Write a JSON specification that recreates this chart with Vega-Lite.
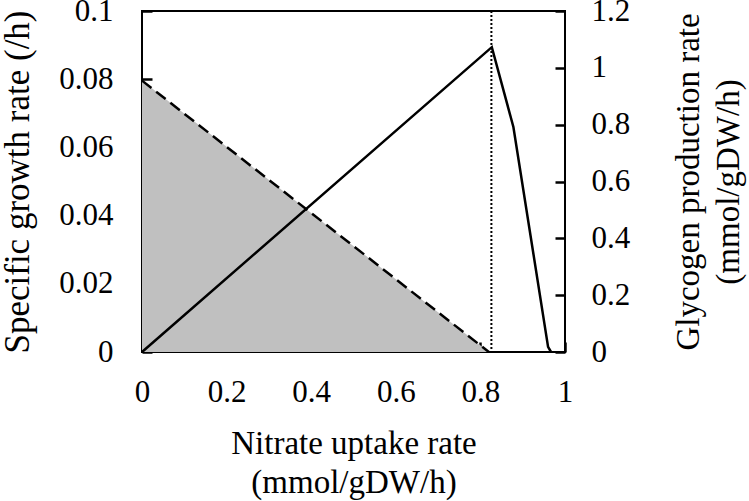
{
  "$schema": "https://vega.github.io/schema/vega-lite/v6.json",
  "width": 423,
  "height": 341,
  "autosize": {"type": "none"},
  "padding": {"left": 142, "top": 11, "right": 184, "bottom": 149},
  "background": "white",
  "config": {
    "font": "Liberation Serif",
    "view": {"stroke": "black", "strokeWidth": 2, "fill": null},
    "axis": {
      "labelFont": "Liberation Serif",
      "titleFont": "Liberation Serif",
      "labelFontSize": 31,
      "titleFontSize": 33,
      "labelColor": "black",
      "titleColor": "black",
      "titleFontWeight": "normal",
      "domain": false,
      "ticks": true,
      "tickColor": "black",
      "tickWidth": 2.5,
      "tickSize": 10,
      "offset": -10,
      "grid": false,
      "labelFlush": false,
      "zindex": 1
    }
  },
  "datasets": {
    "growth": [
      {"x": 0, "g": 0},
      {"x": 0.827, "g": 0.0894},
      {"x": 0.878, "g": 0.066},
      {"x": 0.96, "g": 0.0015},
      {"x": 0.967, "g": 0}
    ],
    "glycogen": [
      {"x": 0, "v": 0.955},
      {"x": 0.82, "v": 0}
    ],
    "marker": [{"x": 0.826}]
  },
  "layer": [
    {
      "data": {"name": "glycogen"},
      "encoding": {
        "x": {
          "field": "x", "type": "quantitative",
          "scale": {"domain": [0, 1]},
          "axis": {
            "values": [0, 0.2, 0.4, 0.6, 0.8, 1],
            "format": "~g",
            "labelPadding": 25,
            "title": ["Nitrate uptake rate", "(mmol/gDW/h)"],
            "titlePadding": 20,
            "titleLineHeight": 39
          }
        },
        "y": {
          "field": "v", "type": "quantitative",
          "scale": {"domain": [0, 1.2]},
          "axis": {
            "orient": "right",
            "values": [0, 0.2, 0.4, 0.6, 0.8, 1, 1.2],
            "format": "~g",
            "labelPadding": 26,
            "title": ["Glycogen production rate", "(mmol/gDW/h)"],
            "titleAngle": -90,
            "titlePadding": 36,
            "titleLineHeight": 40
          }
        }
      },
      "layer": [
        {"mark": {"type": "area", "color": "#c0c0c0"}},
        {"mark": {"type": "line", "color": "black", "strokeDash": [12, 6], "strokeWidth": 2.5}}
      ]
    },
    {
      "data": {"name": "growth"},
      "mark": {"type": "line", "color": "black", "strokeWidth": 2.5},
      "encoding": {
        "x": {"field": "x", "type": "quantitative"},
        "y": {
          "field": "g", "type": "quantitative",
          "scale": {"domain": [0, 0.1]},
          "axis": {
            "orient": "left",
            "values": [0, 0.02, 0.04, 0.06, 0.08, 0.1],
            "format": "~g",
            "labelPadding": 29,
            "title": "Specific growth rate (/h)",
            "titleFontSize": 35,
            "titlePadding": 23
          }
        }
      }
    },
    {
      "data": {"name": "marker"},
      "mark": {"type": "rule", "color": "black", "strokeDash": [2, 2], "strokeWidth": 2},
      "encoding": {"x": {"field": "x", "type": "quantitative"}}
    }
  ],
  "resolve": {"scale": {"y": "independent"}}
}
